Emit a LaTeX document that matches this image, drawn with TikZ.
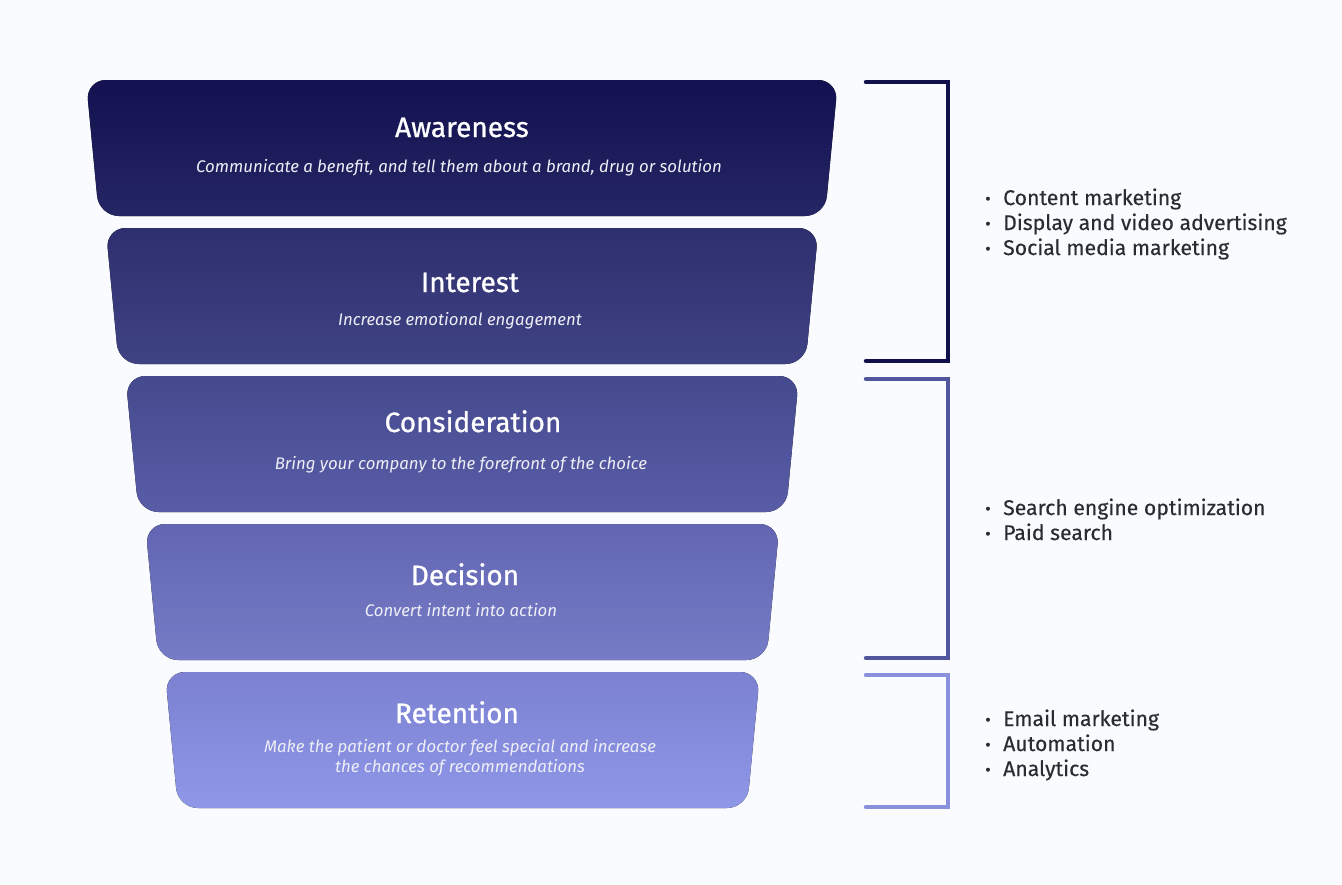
\documentclass[tikz,border=0pt]{standalone}
\usepackage{fontspec}
\setmainfont{Fira Sans}
\newfontfamily\titlefont{Fira Sans}[FakeBold=0.8]
\newfontfamily\listfont{Fira Sans}[FakeBold=0.3]
\usepackage{xcolor}
\usepackage{tikz}
\usetikzlibrary{positioning,calc}

\definecolor{bgpage}{HTML}{FAFBFE}
\definecolor{st0a}{HTML}{13114F}
\definecolor{st0b}{HTML}{252665}
\definecolor{st1a}{HTML}{2E2F6E}
\definecolor{st1b}{HTML}{3F4284}
\definecolor{st2a}{HTML}{45498D}
\definecolor{st2b}{HTML}{595DA7}
\definecolor{st3a}{HTML}{6266B2}
\definecolor{st3b}{HTML}{777CC7}
\definecolor{st4a}{HTML}{7C81D1}
\definecolor{st4b}{HTML}{8F97E8}
\definecolor{brkA}{HTML}{11104A}
\definecolor{brkB}{HTML}{51559C}
\definecolor{brkC}{HTML}{8990DC}
\definecolor{listtext}{HTML}{2B2B33}

\newcommand{\bul}{\makebox[18pt][l]{\fontsize{17}{17}\selectfont\raisebox{0.5pt}{•}}}

\tikzset{
    stagetitle/.style={text=white, inner sep=0pt, anchor=base, font=\titlefont\fontsize{28}{30}\selectfont},
    stagesub/.style={text=white!90!st2b, inner sep=0pt, anchor=base, align=center, font=\fontsize{16.8}{20}\selectfont\itshape},
    bracket/.style={line width=4.5pt, line cap=round},
    bulletlist/.style={text=listtext, inner sep=0pt, anchor=base west, align=left, font=\listfont\fontsize{21.2}{25}\selectfont}
}

\begin{document}
\begin{tikzpicture}[x=1pt, y=-1pt]
    \fill[bgpage] (0,0) rectangle (1342,884);
    \useasboundingbox (0,0) rectangle (1342,884);

    % Funnel stages
    \foreach \i/\ca/\cb in {0/st0a/st0b, 1/st1a/st1b, 2/st2a/st2b, 3/st3a/st3b, 4/st4a/st4b} {
        \pgfmathsetmacro\yt{80+148*\i}
        \pgfmathsetmacro\yb{\yt+136}
        \pgfmathsetmacro\xl{86+19.75*\i}
        \pgfmathsetmacro\xr{838-19.5*\i}
        \fill[top color=\ca, bottom color=\cb, rounded corners=20pt]
            (\xl,\yt) -- (\xr,\yt) -- (\xr-13,\yb) -- (\xl+13,\yb) -- cycle;
    }

    \node[stagetitle] (awareness) at (462,137) {Awareness};
    \node[stagesub] (awareness-sub) at (459,172) {Communicate a benefit, and tell them about a brand, drug or solution};
    \node[stagetitle] (interest) at (470,292) {Interest};
    \node[stagesub] (interest-sub) at (460,325) {Increase emotional engagement};
    \node[stagetitle] (consideration) at (473,432) {Consideration};
    \node[stagesub] (consideration-sub) at (461,469) {Bring your company to the forefront of the choice};
    \node[stagetitle] (decision) at (465,585) {Decision};
    \node[stagesub] (decision-sub) at (461,616) {Convert intent into action};
    \node[stagetitle] (retention) at (457,723) {Retention};
    \node[stagesub] (retention-sub) at (460,772) {Make the patient or doctor feel special and increase\\the chances of recommendations};

    % Brackets
    \draw[bracket, brkA] (866,82) -- (948,82) -- (948,361) -- (866,361);
    \draw[bracket, brkB] (866,379) -- (948,379) -- (948,658) -- (866,658);
    \draw[bracket, brkC] (866,675) -- (948,675) -- (948,807) -- (866,807);

    % Channels (base is the last line)
    \node[bulletlist] (reach) at (985,255) {\bul Content marketing\\\bul Display and video advertising\\\bul Social media marketing};
    \node[bulletlist] (search) at (985,540) {\bul Search engine optimization\\\bul Paid search};
    \node[bulletlist] (loyalty) at (985,776) {\bul Email marketing\\\bul Automation\\\bul Analytics};
\end{tikzpicture}
\end{document}
